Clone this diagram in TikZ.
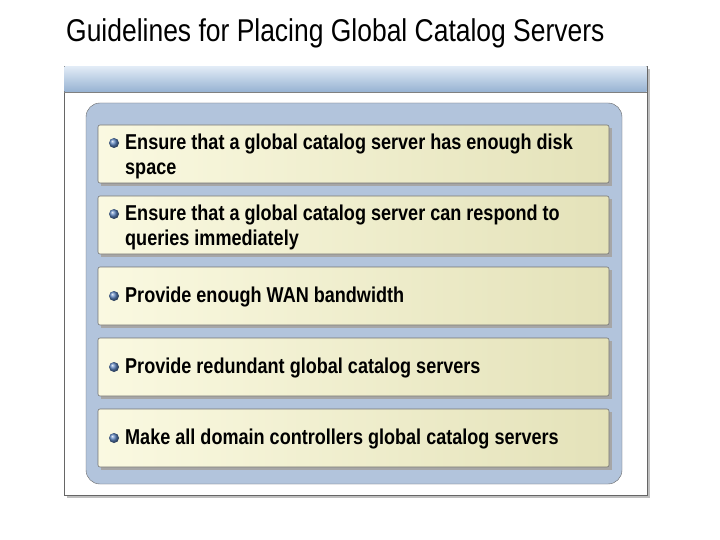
\documentclass[tikz,border=0pt]{standalone}
\usepackage{fontspec}
\setmainfont{Liberation Sans}
\newfontfamily\narrowb[FakeStretch=0.84]{Liberation Sans}
\definecolor{panel}{RGB}{178,196,220}
\definecolor{hdrtop}{RGB}{225,235,246}
\definecolor{hdrbot}{RGB}{150,178,210}
\definecolor{itemL}{RGB}{250,249,225}
\definecolor{itemR}{RGB}{228,226,185}
\definecolor{dotc}{RGB}{90,130,190}
\begin{document}
\begin{tikzpicture}[x=1pt,y=-1pt,
  item/.style={draw=black!55,rounded corners=2pt,left color=itemL,right color=itemR,line width=0.6pt},
  txt/.style={anchor=north west,align=left,font=\narrowb\bfseries\fontsize{21.5}{25}\selectfont,inner sep=0pt},
  dot/.style={circle,inner sep=0pt,minimum size=10pt,ball color=dotc}]
\useasboundingbox (0,0) rectangle (720,540);
\node[anchor=west,inner sep=0pt,font=\fontsize{31.5}{34}\selectfont\narrowb] (title) at (66,33) {Guidelines for Placing Global Catalog Servers};
\fill[black!25] (67,69) rectangle (650,498);
\draw[black!60,fill=white] (64,66) rectangle (647,495);
\shade[top color=hdrtop,bottom color=hdrbot] (64.5,66.5) rectangle (646.5,92);
\draw[black!50] (64,92) -- (647,92);
\draw[black!60,fill=panel,rounded corners=14pt] (86,103) rectangle (622,484);
\foreach \y/\n in {125/1,196/2,267/3,338/4,409/5}{
  \fill[black!35] (101,\y+3) rectangle (612,\y+61);
  \draw[item] (98,\y) rectangle (609,\y+58);
}
\node[dot] (d1) at (114,143) {};
\node[txt] (t1) at (125,134) {Ensure that a global catalog server has enough disk\\space};
\node[dot] (d2) at (114,214) {};
\node[txt] (t2) at (125,205) {Ensure that a global catalog server can respond to\\queries immediately};
\node[dot] (d3) at (114,296) {};
\node[txt] (t3) at (125,287) {Provide enough WAN bandwidth};
\node[dot] (d4) at (114,367) {};
\node[txt] (t4) at (125,358) {Provide redundant global catalog servers};
\node[dot] (d5) at (114,438) {};
\node[txt] (t5) at (125,429) {Make all domain controllers global catalog servers};
\end{tikzpicture}
\end{document}
